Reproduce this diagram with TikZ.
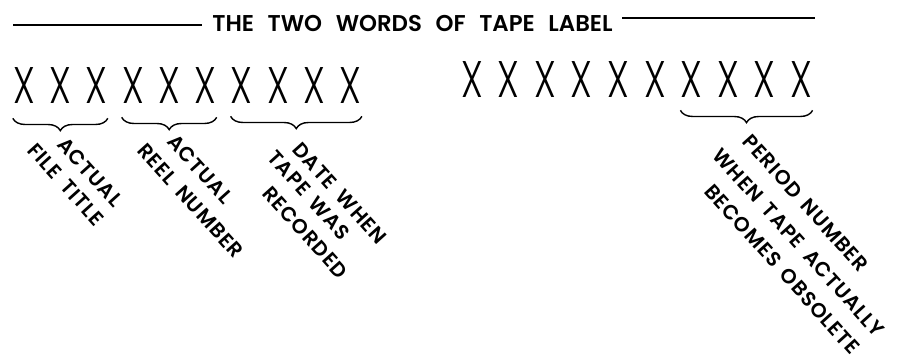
\documentclass[tikz,border=0pt]{standalone}
\usepackage{fontspec}
\setmainfont{Poppins}[UprightFont={* SemiBold}]
\newfontfamily\xfont{Poppins}[UprightFont={* Light}]
\newfontfamily\lblfont{Poppins}[UprightFont={* SemiBold}, LetterSpace=5, WordSpace=1.6]
\usepackage{tikz}
\usetikzlibrary{decorations.pathreplacing, calc}

\begin{document}
\begin{tikzpicture}[x=0.02cm, y=-0.02cm,
  letter/.style={inner sep=0pt, font=\xfont\fontsize{29.3}{30}\selectfont},
  lbl/.style={rotate=-48, anchor=north west, inner sep=0pt,
              font=\lblfont\fontsize{11.6}{13}\selectfont},
  brace/.style={decorate, decoration={brace, mirror, amplitude=7pt},
                line width=0.8pt},
  rule/.style={line width=0.8pt},
]
\useasboundingbox (0,0) rectangle (900,362);

% HEADING
\node[inner sep=0pt, anchor=west, font=\fontsize{13}{15}\selectfont]
  (title) at (212,23) {\spaceskip=7.75pt THE TWO WORDS OF TAPE LABEL};
\coordinate (lineL) at (13,25);
\coordinate (lineR) at (815,18);
\draw[rule] (lineL) -- ($(title.west |- lineL)+(-10,0)$);
\draw[rule] ($(title.east |- lineR)+(9,0)$) -- (lineR);

% FIRST WORD
\foreach \i in {1,...,10}
  \node[letter] (a\i) at ({24+36.3*(\i-1)},86) {\scalebox{0.72}[1]{X}};

% SECOND WORD
\foreach \i in {1,...,10}
  \node[letter] (b\i) at ({472+36.6*(\i-1)},80) {\scalebox{0.72}[1]{X}};

% BRACES
\draw[brace] ($(a1.south west)+(0,14)$) -- ($(a3.south east)+(0,14)$);
\draw[brace] ($(a4.south west)+(0,13)$) -- ($(a6.south east)+(0,13)$);
\draw[brace] ($(a7.south west)+(0,12)$) -- ($(a10.south east)+(0,12)$);
\draw[brace] ($(b7.south west)+(0,12)$) -- ($(b10.south east)+(0,12)$);

% LABELS
\node[lbl] (l1a) at (67,135) {ACTUAL};
\node[lbl] (l1b) at (37,141) {FILE TITLE};
\node[lbl] (l2a) at (177,132) {ACTUAL};
\node[lbl] (l2b) at (147,141) {REEL NUMBER};
\node[lbl] (l3a) at (302,140) {DATE WHEN};
\node[lbl] (l3b) at (277,148) {TAPE WAS};
\node[lbl] (l3c) at (272,184) {RECORDED};
\node[lbl] (l4a) at (752,132) {PERIOD NUMBER};
\node[lbl] (l4b) at (722,146) {WHEN TAPE ACTUALLY};
\node[lbl] (l4c) at (714,182) {BECOMES OBSOLETE};
\end{tikzpicture}
\end{document}
